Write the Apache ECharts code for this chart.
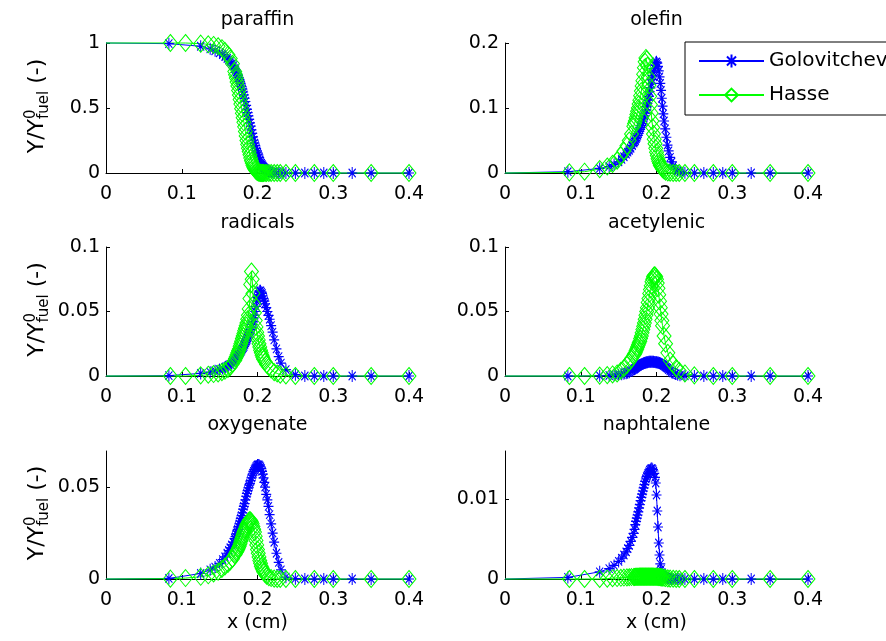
<!DOCTYPE html>
<html><head><meta charset="utf-8">
<script src="https://cdn.jsdelivr.net/npm/echarts@6/dist/echarts.min.js"></script>
<style>html,body{margin:0;padding:0;background:#fff}#c{width:886px;height:641px}</style>
</head><body><div id="c"></div>
<script>
// ---------------- data ----------------
const xTicks = [0, 0.1, 0.2, 0.3, 0.4];
const paraffinTicks = [0, 0.5, 1];
const olefinTicks = [0, 0.1, 0.2];
const radicalsTicks = [0, 0.05, 0.1];
const acetylenicTicks = [0, 0.05, 0.1];
const oxygenateTicks = [0, 0.05];
const naphtaleneTicks = [0, 0.01];

const xGolo = [0, 0.083, 0.125, 0.1375, 0.144, 0.15, 0.154, 0.157, 0.16, 0.162, 0.164, 0.166, 0.168, 0.17,
  0.171, 0.172, 0.173, 0.174, 0.175, 0.176, 0.177, 0.178, 0.179, 0.18,
  0.181, 0.182, 0.183, 0.184, 0.185, 0.186, 0.187, 0.188, 0.189, 0.19,
  0.191, 0.192, 0.193, 0.194, 0.195, 0.196, 0.197, 0.198, 0.199, 0.2,
  0.201, 0.202, 0.203, 0.204, 0.205, 0.206, 0.207, 0.208, 0.209, 0.21,
  0.2115, 0.213, 0.2145, 0.216, 0.218, 0.22, 0.222, 0.225, 0.228, 0.231,
  0.2375, 0.25, 0.2625, 0.275, 0.2875, 0.3, 0.325, 0.35, 0.4];
const xHasse = [0, 0.085, 0.105, 0.125, 0.135, 0.142, 0.148, 0.153, 0.157, 0.161, 0.164, 0.167, 0.17,
  0.171, 0.172, 0.173, 0.174, 0.175, 0.176, 0.177, 0.178, 0.179, 0.18,
  0.181, 0.182, 0.183, 0.184, 0.185, 0.186, 0.187, 0.188, 0.189, 0.19,
  0.191, 0.192, 0.193, 0.194, 0.195, 0.196, 0.197, 0.198, 0.199, 0.2,
  0.201, 0.202, 0.203, 0.204, 0.205, 0.206, 0.207, 0.208, 0.21, 0.212,
  0.215, 0.218, 0.222, 0.226, 0.23, 0.2375, 0.25, 0.275, 0.3, 0.35, 0.4];

const paraffinGolo = [1, 0.995, 0.975, 0.955, 0.94, 0.925, 0.91, 0.897, 0.882, 0.87, 0.857, 0.84, 0.825, 0.805,
  0.793, 0.775, 0.763, 0.75, 0.735, 0.72, 0.703, 0.685, 0.665, 0.645,
  0.623, 0.6, 0.575, 0.55, 0.52, 0.49, 0.465, 0.44, 0.412, 0.385,
  0.36, 0.332, 0.305, 0.278, 0.252, 0.23, 0.21, 0.19, 0.17, 0.155,
  0.14, 0.12, 0.1, 0.088, 0.075, 0.064, 0.054, 0.046, 0.039, 0.033,
  0.026, 0.019, 0.014, 0.01, 0.006, 0.004, 0.002, 0.001, 0.0005, 0,
  0, 0, 0, 0, 0, 0, 0, 0, 0];
const paraffinHasse = [1, 1, 1, 0.995, 0.99, 0.985, 0.975, 0.96, 0.94, 0.91, 0.88, 0.84, 0.78,
  0.755, 0.73, 0.7, 0.67, 0.635, 0.6, 0.565, 0.53, 0.495, 0.46,
  0.425, 0.39, 0.355, 0.32, 0.285, 0.25, 0.22, 0.19, 0.165, 0.14,
  0.115, 0.095, 0.077, 0.06, 0.047, 0.035, 0.026, 0.018, 0.012, 0.008,
  0.005, 0.003, 0.002, 0.001, 0.0005, 0, 0, 0, 0, 0,
  0, 0, 0, 0, 0, 0, 0, 0, 0, 0, 0];

const olefinGolo = [0, 0.002, 0.007, 0.01, 0.013, 0.017, 0.021, 0.025, 0.029, 0.032, 0.035, 0.038, 0.042, 0.046,
  0.048, 0.05, 0.053, 0.055, 0.058, 0.061, 0.064, 0.067, 0.07, 0.073,
  0.076, 0.08, 0.084, 0.088, 0.092, 0.097, 0.102, 0.107, 0.112, 0.118,
  0.125, 0.131, 0.137, 0.144, 0.15, 0.155, 0.161, 0.166, 0.17, 0.171,
  0.169, 0.164, 0.157, 0.148, 0.138, 0.127, 0.115, 0.103, 0.091, 0.08,
  0.068, 0.055, 0.043, 0.034, 0.024, 0.017, 0.011, 0.006, 0.003, 0.002,
  0.0005, 0, 0, 0, 0, 0, 0, 0, 0];
const olefinHasse = [0, 0.001, 0.002, 0.006, 0.01, 0.014, 0.019, 0.027, 0.034, 0.042, 0.05, 0.06, 0.072,
  0.076, 0.08, 0.085, 0.09, 0.095, 0.1, 0.106, 0.112, 0.119, 0.126,
  0.134, 0.142, 0.152, 0.162, 0.171, 0.177, 0.175, 0.165, 0.148, 0.135,
  0.118, 0.105, 0.092, 0.08, 0.07, 0.06, 0.052, 0.045, 0.038, 0.032,
  0.027, 0.022, 0.018, 0.015, 0.012, 0.01, 0.008, 0.006, 0.004, 0.002,
  0.001, 0.0005, 0, 0, 0, 0, 0, 0, 0, 0, 0];

const radicalsGolo = [0, 0.0003, 0.002, 0.003, 0.004, 0.005, 0.0058, 0.0066, 0.0075, 0.0083, 0.009, 0.0105, 0.0115, 0.0125,
  0.013, 0.014, 0.0148, 0.0155, 0.0163, 0.017, 0.018, 0.019, 0.02, 0.021,
  0.022, 0.023, 0.0245, 0.026, 0.027, 0.028, 0.0295, 0.031, 0.0325, 0.034,
  0.036, 0.038, 0.04, 0.042, 0.045, 0.047, 0.05, 0.054, 0.058, 0.061,
  0.063, 0.065, 0.066, 0.066, 0.065, 0.064, 0.062, 0.06, 0.058, 0.056,
  0.053, 0.05, 0.047, 0.044, 0.039, 0.034, 0.028, 0.021, 0.015, 0.01,
  0.005, 0.001, 0, 0, 0, 0, 0, 0, 0];
const radicalsHasse = [0, 0, 0, 0.0005, 0.001, 0.0015, 0.002, 0.003, 0.004, 0.0055, 0.007, 0.0095, 0.012,
  0.0135, 0.015, 0.0165, 0.018, 0.0195, 0.021, 0.023, 0.025, 0.027, 0.029,
  0.031, 0.033, 0.035, 0.037, 0.039, 0.041, 0.044, 0.047, 0.052, 0.06,
  0.071, 0.081, 0.075, 0.064, 0.056, 0.049, 0.043, 0.038, 0.034, 0.031,
  0.028, 0.025, 0.0225, 0.02, 0.018, 0.016, 0.0145, 0.013, 0.011, 0.009,
  0.007, 0.005, 0.003, 0.002, 0.001, 0.0005, 0, 0, 0, 0, 0];

const acetylenicGolo = [0, 0, 0.0002, 0.0004, 0.0006, 0.001, 0.0013, 0.0017, 0.0022, 0.0026, 0.003, 0.004, 0.0045, 0.005,
  0.0055, 0.006, 0.0065, 0.007, 0.0074, 0.0078, 0.0082, 0.0085, 0.0088, 0.009,
  0.0093, 0.0095, 0.0098, 0.01, 0.0102, 0.0104, 0.0106, 0.0107, 0.0109, 0.011,
  0.011, 0.011, 0.011, 0.011, 0.011, 0.011, 0.0109, 0.0108, 0.0107, 0.0106,
  0.0105, 0.0104, 0.0102, 0.01, 0.0098, 0.0095, 0.0092, 0.0088, 0.0084, 0.008,
  0.0073, 0.0066, 0.006, 0.005, 0.004, 0.003, 0.0023, 0.0015, 0.001, 0.0006,
  0.0002, 0, 0, 0, 0, 0, 0, 0, 0];
const acetylenicHasse = [0, 0, 0, 0.0003, 0.0007, 0.0012, 0.002, 0.004, 0.006, 0.0085, 0.011, 0.0135, 0.016,
  0.017, 0.018, 0.0195, 0.021, 0.0225, 0.024, 0.0255, 0.027, 0.029, 0.031,
  0.0335, 0.036, 0.0385, 0.041, 0.044, 0.047, 0.05, 0.053, 0.057, 0.06,
  0.064, 0.067, 0.07, 0.073, 0.075, 0.077, 0.078, 0.078, 0.077, 0.075,
  0.072, 0.068, 0.063, 0.058, 0.053, 0.048, 0.043, 0.039, 0.031, 0.025,
  0.018, 0.012, 0.009, 0.006, 0.004, 0.002, 0.0005, 0, 0, 0, 0];

const oxygenateGolo = [0, 0.0003, 0.003, 0.005, 0.0065, 0.0085, 0.0105, 0.012, 0.014, 0.0155, 0.017, 0.0185, 0.02, 0.022,
  0.023, 0.0245, 0.026, 0.027, 0.0285, 0.03, 0.0315, 0.033, 0.0345, 0.036,
  0.038, 0.0395, 0.041, 0.043, 0.045, 0.0465, 0.048, 0.0495, 0.051, 0.052,
  0.0535, 0.055, 0.0565, 0.0575, 0.0585, 0.0595, 0.0603, 0.061, 0.0615, 0.062,
  0.062, 0.062, 0.0615, 0.061, 0.06, 0.0585, 0.057, 0.055, 0.0525, 0.05,
  0.046, 0.043, 0.0395, 0.035, 0.03, 0.025, 0.02, 0.014, 0.009, 0.005,
  0.001, 0.0002, 0, 0, 0, 0, 0, 0, 0];
const oxygenateHasse = [0, 0.0002, 0.0005, 0.0012, 0.002, 0.003, 0.004, 0.0055, 0.0068, 0.0082, 0.0095, 0.011, 0.013,
  0.0137, 0.0145, 0.0152, 0.016, 0.017, 0.018, 0.0192, 0.0205, 0.0218, 0.023,
  0.0243, 0.0255, 0.0265, 0.0275, 0.0285, 0.0295, 0.0303, 0.031, 0.0318, 0.032,
  0.0318, 0.031, 0.03, 0.0285, 0.027, 0.0255, 0.0233, 0.021, 0.0185, 0.016,
  0.014, 0.012, 0.01, 0.0085, 0.007, 0.006, 0.005, 0.004, 0.0027, 0.0018,
  0.001, 0.0005, 0.0002, 0, 0, 0, 0, 0, 0, 0, 0];

const naphtaleneGolo = [0, 0.0002, 0.0009, 0.0013, 0.0017, 0.0022, 0.0026, 0.003, 0.0034, 0.0038, 0.0042, 0.0047, 0.0052, 0.0057,
  0.0062, 0.0068, 0.0072, 0.0076, 0.008, 0.0084, 0.0089, 0.0093, 0.0098, 0.0102,
  0.0106, 0.011, 0.0114, 0.0118, 0.0122, 0.0125, 0.0128, 0.013, 0.0132, 0.0134,
  0.0136, 0.0137, 0.0138, 0.0138, 0.0137, 0.0135, 0.0132, 0.0127, 0.012, 0.0105,
  0.0085, 0.0065, 0.0045, 0.003, 0.0019, 0.0012, 0.0008, 0.0005, 0.0004, 0.0003,
  0.0002, 0.0002, 0.0001, 0.0001, 0, 0, 0, 0, 0, 0,
  0, 0, 0, 0, 0, 0, 0, 0, 0];
const naphtaleneHasse = [0, 0, 0, 0, 0.00005, 0.0001, 0.00012, 0.00015, 0.00018, 0.0002, 0.00022, 0.00024, 0.00026,
  0.00026, 0.00027, 0.00027, 0.00028, 0.00028, 0.00029, 0.00029, 0.0003, 0.0003, 0.0003,
  0.0003, 0.0003, 0.0003, 0.0003, 0.0003, 0.0003, 0.0003, 0.0003, 0.0003, 0.0003,
  0.0003, 0.0003, 0.0003, 0.0003, 0.0003, 0.0003, 0.00029, 0.00029, 0.00028, 0.00028,
  0.00027, 0.00026, 0.00025, 0.00024, 0.00022, 0.00021, 0.0002, 0.00018, 0.00015, 0.00012,
  0.00008, 0.00005, 0.00003, 0.00001, 0, 0, 0, 0, 0, 0, 0];

const seriesNames = ['Golovitchev', 'Hasse'];
const titles = ['paraffin', 'olefin', 'radicals', 'acetylenic', 'oxygenate', 'naphtalene'];

// ---------------- layout / style ----------------
const FONT = '"DejaVu Sans", sans-serif';
const panels = [
  {title: titles[0], golo: paraffinGolo, hasse: paraffinHasse, yMax: 1, ticks: paraffinTicks},
  {title: titles[1], golo: olefinGolo, hasse: olefinHasse, yMax: 0.2, ticks: olefinTicks},
  {title: titles[2], golo: radicalsGolo, hasse: radicalsHasse, yMax: 0.1, ticks: radicalsTicks},
  {title: titles[3], golo: acetylenicGolo, hasse: acetylenicHasse, yMax: 0.1, ticks: acetylenicTicks},
  {title: titles[4], golo: oxygenateGolo, hasse: oxygenateHasse, yMax: 0.0696, ticks: oxygenateTicks},
  {title: titles[5], golo: naphtaleneGolo, hasse: naphtaleneHasse, yMax: 0.016, ticks: naphtaleneTicks}
];
const grids = [
  {left: 106, top: 43, width: 303, height: 130},
  {left: 505, top: 43, width: 303, height: 130},
  {left: 106, top: 247, width: 303, height: 129},
  {left: 505, top: 247, width: 303, height: 129},
  {left: 106, top: 451, width: 303, height: 128},
  {left: 505, top: 451, width: 303, height: 128}
];
const titleY = [20, 20, 223.5, 223.5, 425.5, 425.5];

const STAR = 'path://M0,-10L0,10M-10,0L10,0M-7.07,-7.07L7.07,7.07M-7.07,7.07L7.07,-7.07';
const BLUE = '#0000ff', GREEN = '#00ff00';

function toData(xs, ys) {
  return xs.map((x, i) => i === 0 ? {value: [x, ys[i]], symbol: 'none'} : [x, ys[i]]);
}

const xAxes = [], yAxes = [], series = [], graphics = [];
panels.forEach((p, i) => {
  const axisCommon = {
    axisLine: {show: true, onZero: false, lineStyle: {color: '#000', width: 1}},
    splitLine: {show: false}
  };
  xAxes.push(Object.assign({
    type: 'value', gridIndex: i, min: 0, max: 0.4,
    axisTick: {show: true, inside: true, length: 4, customValues: xTicks, lineStyle: {color: '#000'}},
    axisLabel: {customValues: xTicks, margin: 12, color: '#000', fontFamily: FONT, fontSize: 19}
  }, axisCommon));
  yAxes.push(Object.assign({
    type: 'value', gridIndex: i, min: 0, max: p.yMax,
    axisTick: {show: true, inside: true, length: 4, customValues: p.ticks, lineStyle: {color: '#000'}},
    axisLabel: {customValues: p.ticks, margin: 6, color: '#000', fontFamily: FONT, fontSize: 19}
  }, axisCommon));
  series.push({
    type: 'line', name: seriesNames[0], xAxisIndex: i, yAxisIndex: i,
    data: toData(xGolo, p.golo), symbol: STAR, symbolSize: [10, 12], showSymbol: true,
    clip: false, lineStyle: {color: BLUE, width: 1},
    itemStyle: {color: 'rgba(0,0,0,0)', borderColor: BLUE, borderWidth: 1.1},
    emphasis: {disabled: true}
  });
  series.push({
    type: 'line', name: seriesNames[1], xAxisIndex: i, yAxisIndex: i,
    data: toData(xHasse, p.hasse), symbol: 'diamond', symbolSize: [14, 17], showSymbol: true,
    clip: false, lineStyle: {color: GREEN, width: 1},
    itemStyle: {color: 'rgba(0,0,0,0)', borderColor: GREEN, borderWidth: 1},
    emphasis: {disabled: true}
  });
  const g = grids[i];
  graphics.push({type: 'text', x: g.left + g.width / 2, y: titleY[i],
    style: {text: p.title, font: '19px ' + FONT, fill: '#000', align: 'center', verticalAlign: 'middle'}});
});

// x labels
[0, 1].forEach(c => {
  const g = grids[4 + c];
  graphics.push({type: 'text', x: g.left + g.width / 2, y: 623,
    style: {text: 'x (cm)', font: '19px ' + FONT, fill: '#000', align: 'center', verticalAlign: 'middle'}});
});

// y labels  Y/Y^0_fuel (-)
const mctx = document.createElement('canvas').getContext('2d');
function tw(t, s) { mctx.font = s + 'px "DejaVu Sans"'; return mctx.measureText(t).width; }
function yLabel(cy) {
  const M = 22, S = 15;
  const wMain = tw('Y/Y', M), w0 = tw('0', S), wF = tw('fuel', S), wSp = tw(' ', M), wP = tw('(-)', M);
  const L = wMain + Math.max(w0, wF) + wSp + wP;
  const st = (t, s) => ({text: t, font: s + 'px ' + FONT, fill: '#000', align: 'left', verticalAlign: 'middle'});
  return {type: 'group', x: 37, y: cy + L / 2, rotation: Math.PI / 2, children: [
    {type: 'text', x: 0, y: 0, style: st('Y/Y', M)},
    {type: 'text', x: wMain, y: -6, style: st('0', S)},
    {type: 'text', x: wMain, y: 7, style: st('fuel', S)},
    {type: 'text', x: wMain + Math.max(w0, wF) + wSp, y: 0, style: st('(-)', M)}
  ]};
}
graphics.push(yLabel(106), yLabel(309.5), yLabel(513));

const chart = echarts.init(document.getElementById('c'), null, {renderer: 'canvas'});
chart.setOption({
  animation: false,
  backgroundColor: '#fff',
  grid: grids,
  xAxis: xAxes,
  yAxis: yAxes,
  series: series,
  graphic: graphics,
  legend: {
    data: seriesNames, orient: 'vertical', left: 685, top: 42,
    itemWidth: 65, itemHeight: 16, itemGap: 14,
    padding: [9, 40, 10, 13],
    backgroundColor: '#fff', borderColor: '#000', borderWidth: 1,
    textStyle: {fontFamily: FONT, fontSize: 20, color: '#000'}
  }
});
</script></body></html>
